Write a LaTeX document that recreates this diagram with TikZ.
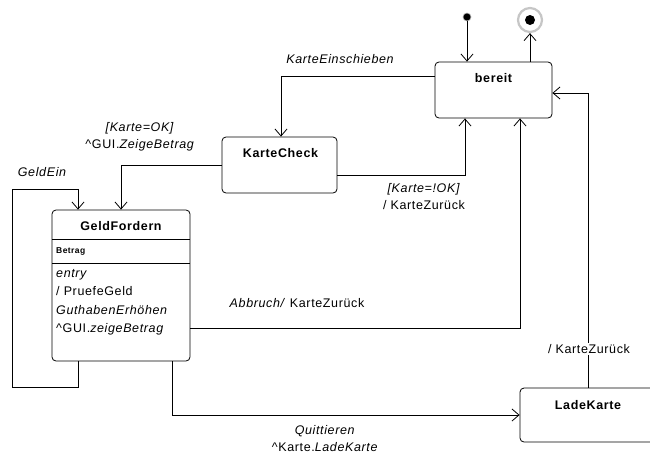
\documentclass[tikz,border=0pt]{standalone}
\usepackage{fontspec}
\setmainfont{Liberation Sans}[LetterSpace=5]
\usetikzlibrary{arrows.meta}
\begin{document}
\begin{tikzpicture}[x=1pt,y=-1pt,
  state/.style={draw, rounded corners=4pt, line width=0.8pt, inner sep=0pt, fill=white},
  ttl/.style={font=\fontsize{12.5}{15}\selectfont\bfseries, inner sep=0pt},
  lbl/.style={font=\fontsize{12.5}{17}\selectfont, align=center, inner sep=1pt},
  body/.style={font=\fontsize{12.5}{18.5}\selectfont, align=left, inner sep=0pt, anchor=north west},
  conn/.style={line width=0.8pt, -{Straight Barb[length=7pt,width=12pt,line width=0.8pt]}},
]
\clip (0,0) rectangle (650,458);
\fill[white] (0,0) rectangle (650,458);

% states
\node[state, minimum width=117, minimum height=56] (bereit) at (493.5,90) {};
\node[ttl] (bereitT) at (493.5,78) {bereit};
\node[state, minimum width=115, minimum height=56] (kc) at (279.5,165) {};
\node[ttl] (kcT) at (280.5,153) {KarteCheck};
\node[state, minimum width=138, minimum height=151] (gf) at (121,285.5) {};
\node[ttl] (gfT) at (121,226) {GeldFordern};
\coordinate (sep1) at (52,239);
\coordinate (sep2) at (52,263);
\draw[line width=0.8pt] (sep1) -- (sep1 -| gf.east);
\draw[line width=0.8pt] (sep2) -- (sep2 -| gf.east);
\node[font=\fontsize{8.5}{10}\selectfont\bfseries, anchor=west, inner sep=0pt] (betrag) at (56,251.5) {Betrag};
\node[body] (gfbody) at (56,269) {\itshape entry\\/ PruefeGeld\\\itshape GuthabenErhöhen\\\textasciicircum GUI.\textit{zeigeBetrag}};
\node[state, minimum width=136, minimum height=54] (lk) at (588,415) {};
\node[ttl] (lkT) at (588,405) {LadeKarte};

% pseudo states
\node[circle, fill=black, draw=gray!60, line width=0.6pt, minimum size=8, inner sep=0pt] (init) at (467,17) {};
\node[circle, draw=gray!45, line width=2.2pt, minimum size=24, inner sep=0pt] (final) at (530,20) {};
\node[circle, fill=black, minimum size=10, inner sep=0pt] (finaldot) at (final.center) {};

% loop coordinates
\coordinate (loopA) at (12,387);
\coordinate (loopB) at (12,189);

% connectors
\draw[conn] (init) -- ([xshift=-26.5pt]bereit.north);
\draw[conn] ([xshift=36.5pt]bereit.north) -- (final);
\draw[conn] ([yshift=14pt]bereit.west) -| ([xshift=1.5pt]kc.north);
\draw[conn] ([yshift=-10pt]kc.east) -| ([xshift=-28.5pt]bereit.south);
\draw[conn] (kc.west) -| (gf.north);
\draw[conn] ([xshift=-43pt]gf.south) |- (loopA) -- (loopB) -| ([xshift=-43pt]gf.north);
\draw[conn] ([yshift=-42.5pt]gf.east) -| ([xshift=26.5pt]bereit.south);
\draw[conn] ([xshift=51pt]gf.south) |- (lk.west);
\draw[conn] (lk.north) |- ([yshift=-3pt]bereit.east);

% labels
\node[lbl] (lEin) at (340,59) {\itshape KarteEinschieben};
\node[lbl] (lOK) at (140,137) {\textit{[Karte=OK]}\\\textasciicircum GUI.\textit{ZeigeBetrag}};
\node[lbl] (lNOK) at (424,197) {\textit{[Karte=!OK]}\\/ KarteZurück};
\node[lbl] (lGeld) at (42,172) {\itshape GeldEin};
\node[lbl] (lAbb) at (297,303) {\textit{Abbruch/} KarteZurück};
\node[lbl, fill=white] (lLade) at (589,349) {/ KarteZurück};
\node[lbl] (lQ) at (325,439) {\textit{Quittieren}\\\textasciicircum Karte.\textit{LadeKarte}};
\end{tikzpicture}
\end{document}
